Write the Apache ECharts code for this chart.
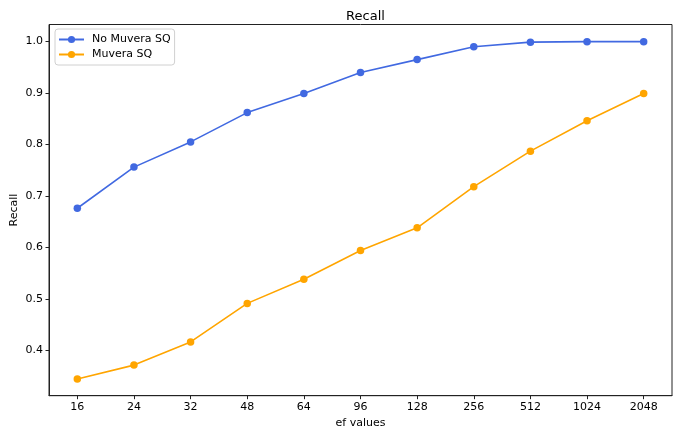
<!DOCTYPE html>
<html>
<head>
<meta charset="utf-8">
<script src="https://cdn.jsdelivr.net/npm/echarts@6/dist/echarts.min.js"></script>
<style>
html,body{margin:0;padding:0;background:#fff;}
#chart{width:680px;height:438px;}
</style>
</head>
<body>
<div id="chart"></div>
<script>
var categories = ['16','24','32','48','64','96','128','256','512','1024','2048'];
var noMuveraSQ = [0.676, 0.756, 0.805, 0.862, 0.899, 0.940, 0.965, 0.990, 0.999, 1.000, 1.000];
var muveraSQ = [0.344, 0.371, 0.416, 0.491, 0.538, 0.594, 0.638, 0.718, 0.787, 0.846, 0.899];
var yTicks = [0.4, 0.5, 0.6, 0.7, 0.8, 0.9, 1.0];
var yMin = 0.3115, yMax = 1.0333;

var font = 'DejaVu Sans';
var chart = echarts.init(document.getElementById('chart'), null, {renderer:'canvas'});
chart.setOption({
  animation: false,
  backgroundColor: '#fff',
  textStyle: {fontFamily: font},
  title: {
    text: 'Recall', left: 360.5, top: 5, textAlign: 'center',
    textStyle: {fontFamily: font, fontSize: 13, fontWeight: 'normal', color: '#000'}
  },
  legend: {
    orient: 'vertical', left: 55, top: 29,
    padding: [5, 4, 5, 3],
    itemGap: 4, itemWidth: 25, itemHeight: 9,
    backgroundColor: 'rgba(255,255,255,0.8)',
    borderColor: '#d0d0d0', borderWidth: 1, borderRadius: 3,
    textStyle: {fontFamily: font, fontSize: 11, color: '#000', padding: [0,0,0,3]},
    data: [
      {name: 'No Muvera SQ', itemStyle: {color: '#4169E1'}},
      {name: 'Muvera SQ', itemStyle: {color: '#FFA500'}}
    ]
  },
  grid: {
    left: 49, right: 8, top: 24.5, bottom: 42.3,
    show: true, borderColor: '#222', borderWidth: 1, containLabel: false,
    outerBoundsMode: 'none'
  },
  xAxis: {
    type: 'category', data: categories, boundaryGap: true,
    name: 'ef values', nameLocation: 'middle', nameGap: 22, nameMoveOverlap: false,
    nameTextStyle: {fontFamily: font, fontSize: 11, color: '#000'},
    axisLine: {show: true, lineStyle: {color: '#222', width: 1}},
    axisTick: {show: true, alignWithLabel: true, length: 3.5, lineStyle: {color: '#222'}},
    axisLabel: {fontFamily: font, fontSize: 11, color: '#000', margin: 6},
    splitLine: {show: false}
  },
  yAxis: {
    type: 'value', min: yMin, max: yMax,
    name: 'Recall', nameLocation: 'middle', nameGap: 29, nameRotate: 90, nameMoveOverlap: false,
    nameTextStyle: {fontFamily: font, fontSize: 11, color: '#000'},
    axisLine: {show: true, lineStyle: {color: '#222', width: 1}},
    axisTick: {show: true, length: 3.5, lineStyle: {color: '#222'}, customValues: yTicks},
    axisLabel: {fontFamily: font, fontSize: 11, color: '#000', margin: 6,
      customValues: yTicks,
      formatter: function(v){ return v.toFixed(1); }},
    splitLine: {show: false}
  },
  series: [
    {
      name: 'No Muvera SQ', type: 'line', data: noMuveraSQ,
      symbol: 'circle', symbolSize: 7.5, showAllSymbol: true,
      itemStyle: {color: '#4169E1'},
      lineStyle: {color: '#4169E1', width: 1.6}
    },
    {
      name: 'Muvera SQ', type: 'line', data: muveraSQ,
      symbol: 'circle', symbolSize: 7.5, showAllSymbol: true,
      itemStyle: {color: '#FFA500'},
      lineStyle: {color: '#FFA500', width: 1.6}
    }
  ]
});
</script>
</body>
</html>
